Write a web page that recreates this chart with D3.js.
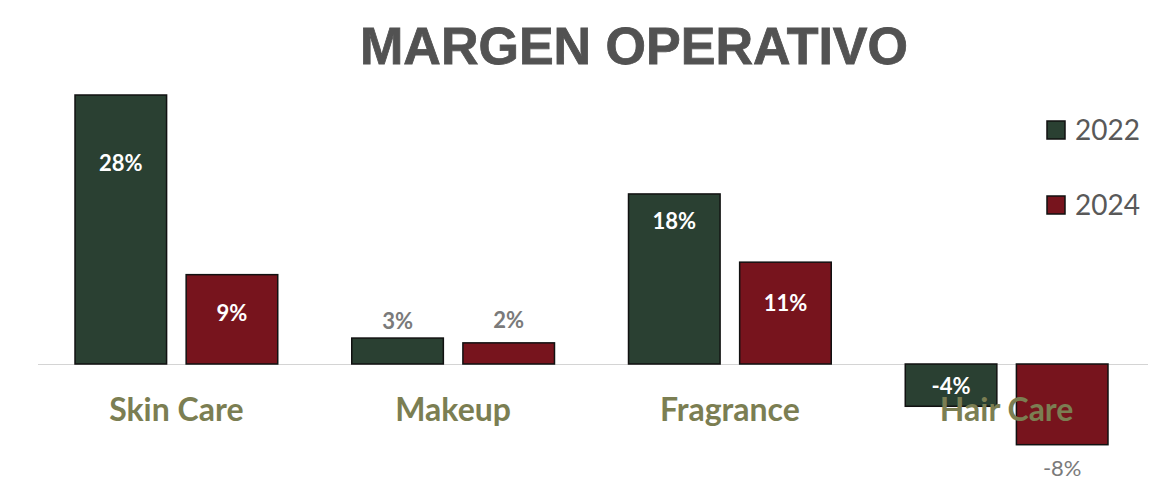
<!DOCTYPE html>
<html>
<head>
<meta charset="utf-8">
<script src="https://cdn.jsdelivr.net/npm/d3@7"></script>
<style>
  html, body { margin: 0; padding: 0; background: #fff; }
  svg { display: block; }
</style>
</head>
<body>
<svg width="1168" height="481"></svg>
<script>
const categories = ['Skin Care', 'Makeup', 'Fragrance', 'Hair Care']
const series = ['2022', '2024']
const values2022 = [0.280, 0.027, 0.177, -0.044]
const values2024 = [0.093, 0.022, 0.106, -0.084]
const valueLabels2022 = ['28%', '3%', '18%', '-4%']
const valueLabels2024 = ['9%', '2%', '11%', '-8%']

const width = 1168
const height = 481
const plot = { left: 38, right: 1145, zero: 364 }
const colors = { '2022': '#2a4032', '2024': '#77141d' }

// label placement, px from the bar end (top for positive, bottom for negative)
const labelStyle = {
  'Skin Care|2022': { dy: 68, inside: true },
  'Skin Care|2024': { dy: 39, inside: true },
  'Makeup|2022': { dy: -17, inside: false },
  'Makeup|2024': { dy: -23, inside: false },
  'Fragrance|2022': { dy: 27, inside: true },
  'Fragrance|2024': { dy: 41, inside: true },
  'Hair Care|2022': { dy: -20, inside: true },
  'Hair Care|2024': { dy: 24, inside: false, regular: true }
}

const data = categories.map((c, i) => ({
  category: c,
  bars: [
    { series: '2022', value: values2022[i], label: valueLabels2022[i] },
    { series: '2024', value: values2024[i], label: valueLabels2024[i] }
  ]
}))

const svg = d3.select('svg')

// scales
const x0 = d3.scaleBand()
  .domain(categories)
  .range([plot.left, plot.right])
  .padding(0)

const x1 = d3.scaleBand()
  .domain(series)
  .range([0, x0.bandwidth()])
  .paddingInner(0.176)
  .paddingOuter(0.333)

const pxPerPct = 269 / 0.28
const y = d3.scaleLinear()
  .domain([-0.1, 0.3])
  .range([plot.zero + 0.1 * pxPerPct, plot.zero - 0.3 * pxPerPct])

// title
svg.append('text')
  .attr('x', 634)
  .attr('y', 64)
  .attr('text-anchor', 'middle')
  .style('font-family', '"Liberation Sans", Arial, sans-serif')
  .style('font-weight', 'bold')
  .style('font-size', '52px')
  .style('fill', '#525252')
  .style('stroke', '#525252')
  .style('stroke-width', 0.8)
  .text('MARGEN OPERATIVO')

// zero line
svg.append('line')
  .attr('x1', plot.left)
  .attr('x2', 1148)
  .attr('y1', y(0) + 0.5)
  .attr('y2', y(0) + 0.5)
  .attr('stroke', '#d4d4d4')
  .attr('stroke-width', 1)

const groups = svg.selectAll('.cat')
  .data(data)
  .enter().append('g')
  .attr('class', 'cat')
  .attr('transform', d => `translate(${x0(d.category)},0)`)

groups.selectAll('rect')
  .data(d => d.bars)
  .enter().append('rect')
  .attr('x', d => x1(d.series))
  .attr('width', x1.bandwidth())
  .attr('y', d => y(Math.max(0, d.value)))
  .attr('height', d => Math.abs(y(d.value) - y(0)))
  .attr('fill', d => colors[d.series])
  .attr('stroke', '#111')
  .attr('stroke-width', 1.5)

// value labels
groups.selectAll('.val')
  .data(d => d.bars.map(b => Object.assign({ category: d.category }, b)))
  .enter().append('text')
  .attr('class', 'val')
  .attr('x', d => x1(d.series) + x1.bandwidth() / 2)
  .attr('y', d => y(d.value) + labelStyle[d.category + '|' + d.series].dy)
  .attr('dy', '0.35em')
  .attr('text-anchor', 'middle')
  .style('font-family', 'Lato, "Noto Sans", sans-serif')
  .style('font-size', '22px')
  .style('font-weight', d => labelStyle[d.category + '|' + d.series].regular ? 'normal' : 'bold')
  .style('fill', d => labelStyle[d.category + '|' + d.series].inside ? '#ffffff' : '#7a7a7a')
  .text(d => d.label)

// category labels
svg.append('g')
  .selectAll('text')
  .data(categories)
  .enter().append('text')
  .attr('x', d => x0(d) + x0.bandwidth() / 2)
  .attr('y', 410)
  .attr('dy', '0.35em')
  .attr('text-anchor', 'middle')
  .style('font-family', 'Lato, "Noto Sans", sans-serif')
  .style('font-size', '32px')
  .style('font-weight', 'bold')
  .style('fill', '#7b7e52')
  .text(d => d)

// legend
const legend = svg.append('g')
  .attr('transform', 'translate(1047,121)')

const legendItems = legend.selectAll('g')
  .data(series)
  .enter().append('g')
  .attr('transform', (d, i) => `translate(0,${i * 75})`)

legendItems.append('rect')
  .attr('width', 18)
  .attr('height', 18)
  .attr('fill', d => colors[d])
  .attr('stroke', '#111')
  .attr('stroke-width', 1.5)

legendItems.append('text')
  .attr('x', 28)
  .attr('y', 9)
  .attr('dy', '0.35em')
  .style('font-family', 'Lato, "Noto Sans", sans-serif')
  .style('font-size', '28px')
  .style('fill', '#595959')
  .text(d => d)
</script>
</body>
</html>
